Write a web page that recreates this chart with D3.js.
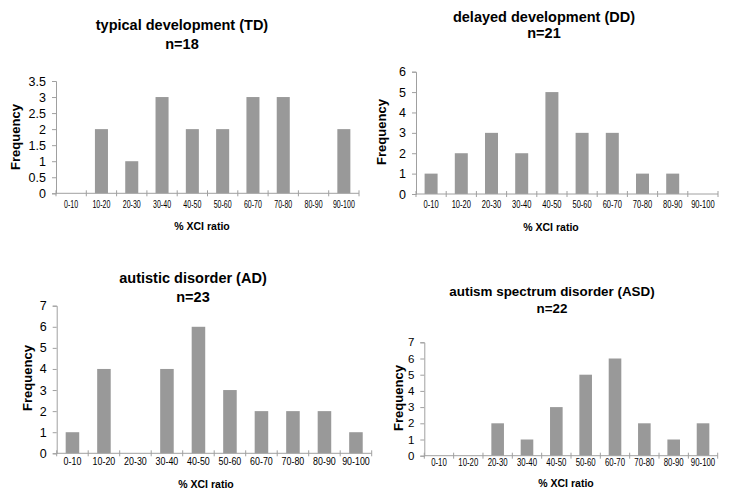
<!DOCTYPE html>
<html>
<head>
<meta charset="utf-8">
<script src="https://cdn.jsdelivr.net/npm/d3@7"></script>
<style>
  html, body { margin: 0; padding: 0; background: #fff; }
  svg { display: block; font-family: "Liberation Sans", Arial, sans-serif; }
</style>
</head>
<body>
<svg id="chart" width="732" height="502"></svg>
<script>
// ---- data ----
const categories = ["0-10","10-20","20-30","30-40","40-50","50-60","60-70","70-80","80-90","90-100"];
const tdValues  = [0, 2, 1, 3, 2, 2, 3, 3, 0, 2];
const ddValues  = [1, 2, 3, 2, 5, 3, 3, 1, 1, 0];
const adValues  = [1, 4, 0, 4, 6, 3, 2, 2, 2, 1];
const asdValues = [0, 0, 2, 1, 3, 5, 6, 2, 1, 2];
const tdTicks  = [0, 0.5, 1, 1.5, 2, 2.5, 3, 3.5];
const ddTicks  = [0, 1, 2, 3, 4, 5, 6];
const adTicks  = [0, 1, 2, 3, 4, 5, 6, 7];
const asdTicks = [0, 1, 2, 3, 4, 5, 6, 7];
const titles = ["typical development (TD)", "delayed development (DD)", "autistic disorder (AD)", "autism spectrum disorder (ASD)"];
const nLabels = ["n=18", "n=21", "n=23", "n=22"];
const yTitle = "Frequency";
const xTitle = "% XCI ratio";

// ---- layout ----
const panels = [
  { values: tdValues, ticks: tdTicks, yMax: 3.5, x0: 56, x1: 359, yTop: 81, yBot: 193.3,
    tx: 182, t1: 30, t2: 48.5, tSize: 14.5, fx: 15, fy: 137, xlY: 208, xlSize: 11, xlW: 18,
    xtX: 202, xtY: 230, ySize: 12.5, fmt: d3.format("") },
  { values: ddValues, ticks: ddTicks, yMax: 6, x0: 416, x1: 718, yTop: 71.7, yBot: 194,
    tx: 544, t1: 21.5, t2: 37.5, tSize: 14.5, fx: 381, fy: 132, xlY: 208, xlSize: 11, xlW: 19.3,
    xtX: 551, xtY: 230.5, ySize: 12.5, fmt: d3.format("d") },
  { values: adValues, ticks: adTicks, yMax: 7, x0: 56.7, x1: 371.7, yTop: 305.7, yBot: 453.3,
    tx: 193, t1: 283, t2: 301.5, tSize: 14.5, fx: 27, fy: 378, xlY: 465, xlSize: 11.5, xlW: 22.7,
    xtX: 206, xtY: 488, ySize: 12.5, fmt: d3.format("d") },
  { values: asdValues, ticks: asdTicks, yMax: 7, x0: 424.3, x1: 717.7, yTop: 342.3, yBot: 455.7,
    tx: 552, t1: 296, t2: 313, tSize: 13.4, fx: 398, fy: 398, xlY: 466, xlSize: 10.8, xlW: 20,
    xtX: 566, xtY: 487, ySize: 11.5, fmt: d3.format("d") }
];

const svg = d3.select("#chart");
const axisColor = "#a0a0a0";
const barColor = "#999999";

panels.forEach((p, i) => {
  const g = svg.append("g");
  const x = d3.scaleBand().domain(categories).range([p.x0, p.x1]).paddingInner(0.57).paddingOuter(0.285);
  const xEdge = d3.scaleLinear().domain([0, categories.length]).range([p.x0, p.x1]);
  const y = d3.scaleLinear().domain([0, p.yMax]).range([p.yBot, p.yTop]);

  // bars
  g.selectAll("rect.bar").data(p.values).join("rect")
    .attr("class", "bar")
    .attr("x", (d, j) => x(categories[j]))
    .attr("width", x.bandwidth())
    .attr("y", d => y(d))
    .attr("height", d => y(0) - y(d))
    .attr("fill", barColor);

  // y axis
  const ya = g.append("g").attr("transform", `translate(${p.x0},0)`)
    .call(d3.axisLeft(y).tickValues(p.ticks).tickSize(4).tickPadding(6).tickFormat(p.fmt));
  ya.select(".domain").attr("stroke", axisColor);
  ya.selectAll(".tick line").attr("stroke", axisColor);
  ya.selectAll(".tick text").attr("fill", "#000").attr("font-size", p.ySize)
    .attr("font-family", "Liberation Sans, Arial, sans-serif");

  // x axis line
  g.append("line").attr("x1", p.x0).attr("x2", p.x1).attr("y1", p.yBot).attr("y2", p.yBot)
    .attr("stroke", axisColor);
  // x boundary ticks
  g.selectAll("line.xt").data(d3.range(categories.length + 1)).join("line")
    .attr("class", "xt")
    .attr("x1", d => xEdge(d)).attr("x2", d => xEdge(d))
    .attr("y1", p.yBot - 3).attr("y2", p.yBot + 3)
    .attr("stroke", axisColor);
  // x tick labels (condensed like the original)
  const labels = g.selectAll("text.xl").data(categories).join("text")
    .attr("class", "xl")
    .attr("x", d => x(d) + x.bandwidth() / 2)
    .attr("y", p.xlY)
    .attr("text-anchor", "middle")
    .attr("font-size", p.xlSize)
    .text(d => d);
  const refW = labels.filter(d => d === "10-20").node().getComputedTextLength();
  const k = p.xlW / refW;
  labels.each(function () {
    const w = this.getComputedTextLength();
    d3.select(this).attr("textLength", w * k).attr("lengthAdjust", "spacingAndGlyphs");
  });

  // titles
  g.append("text").attr("x", p.tx).attr("y", p.t1).attr("text-anchor", "middle")
    .attr("font-weight", "bold").attr("font-size", p.tSize).text(titles[i]);
  g.append("text").attr("x", p.tx).attr("y", p.t2).attr("text-anchor", "middle")
    .attr("font-weight", "bold").attr("font-size", p.tSize).text(nLabels[i]);

  // axis titles
  g.append("text").attr("transform", `translate(${p.fx},${p.fy}) rotate(-90)`)
    .attr("text-anchor", "middle").attr("dy", "0.35em")
    .attr("font-weight", "bold").attr("font-size", 13).text(yTitle);
  g.append("text").attr("x", p.xtX).attr("y", p.xtY).attr("text-anchor", "middle")
    .attr("font-weight", "bold").attr("font-size", 10.5).text(xTitle);
});
</script>
</body>
</html>
